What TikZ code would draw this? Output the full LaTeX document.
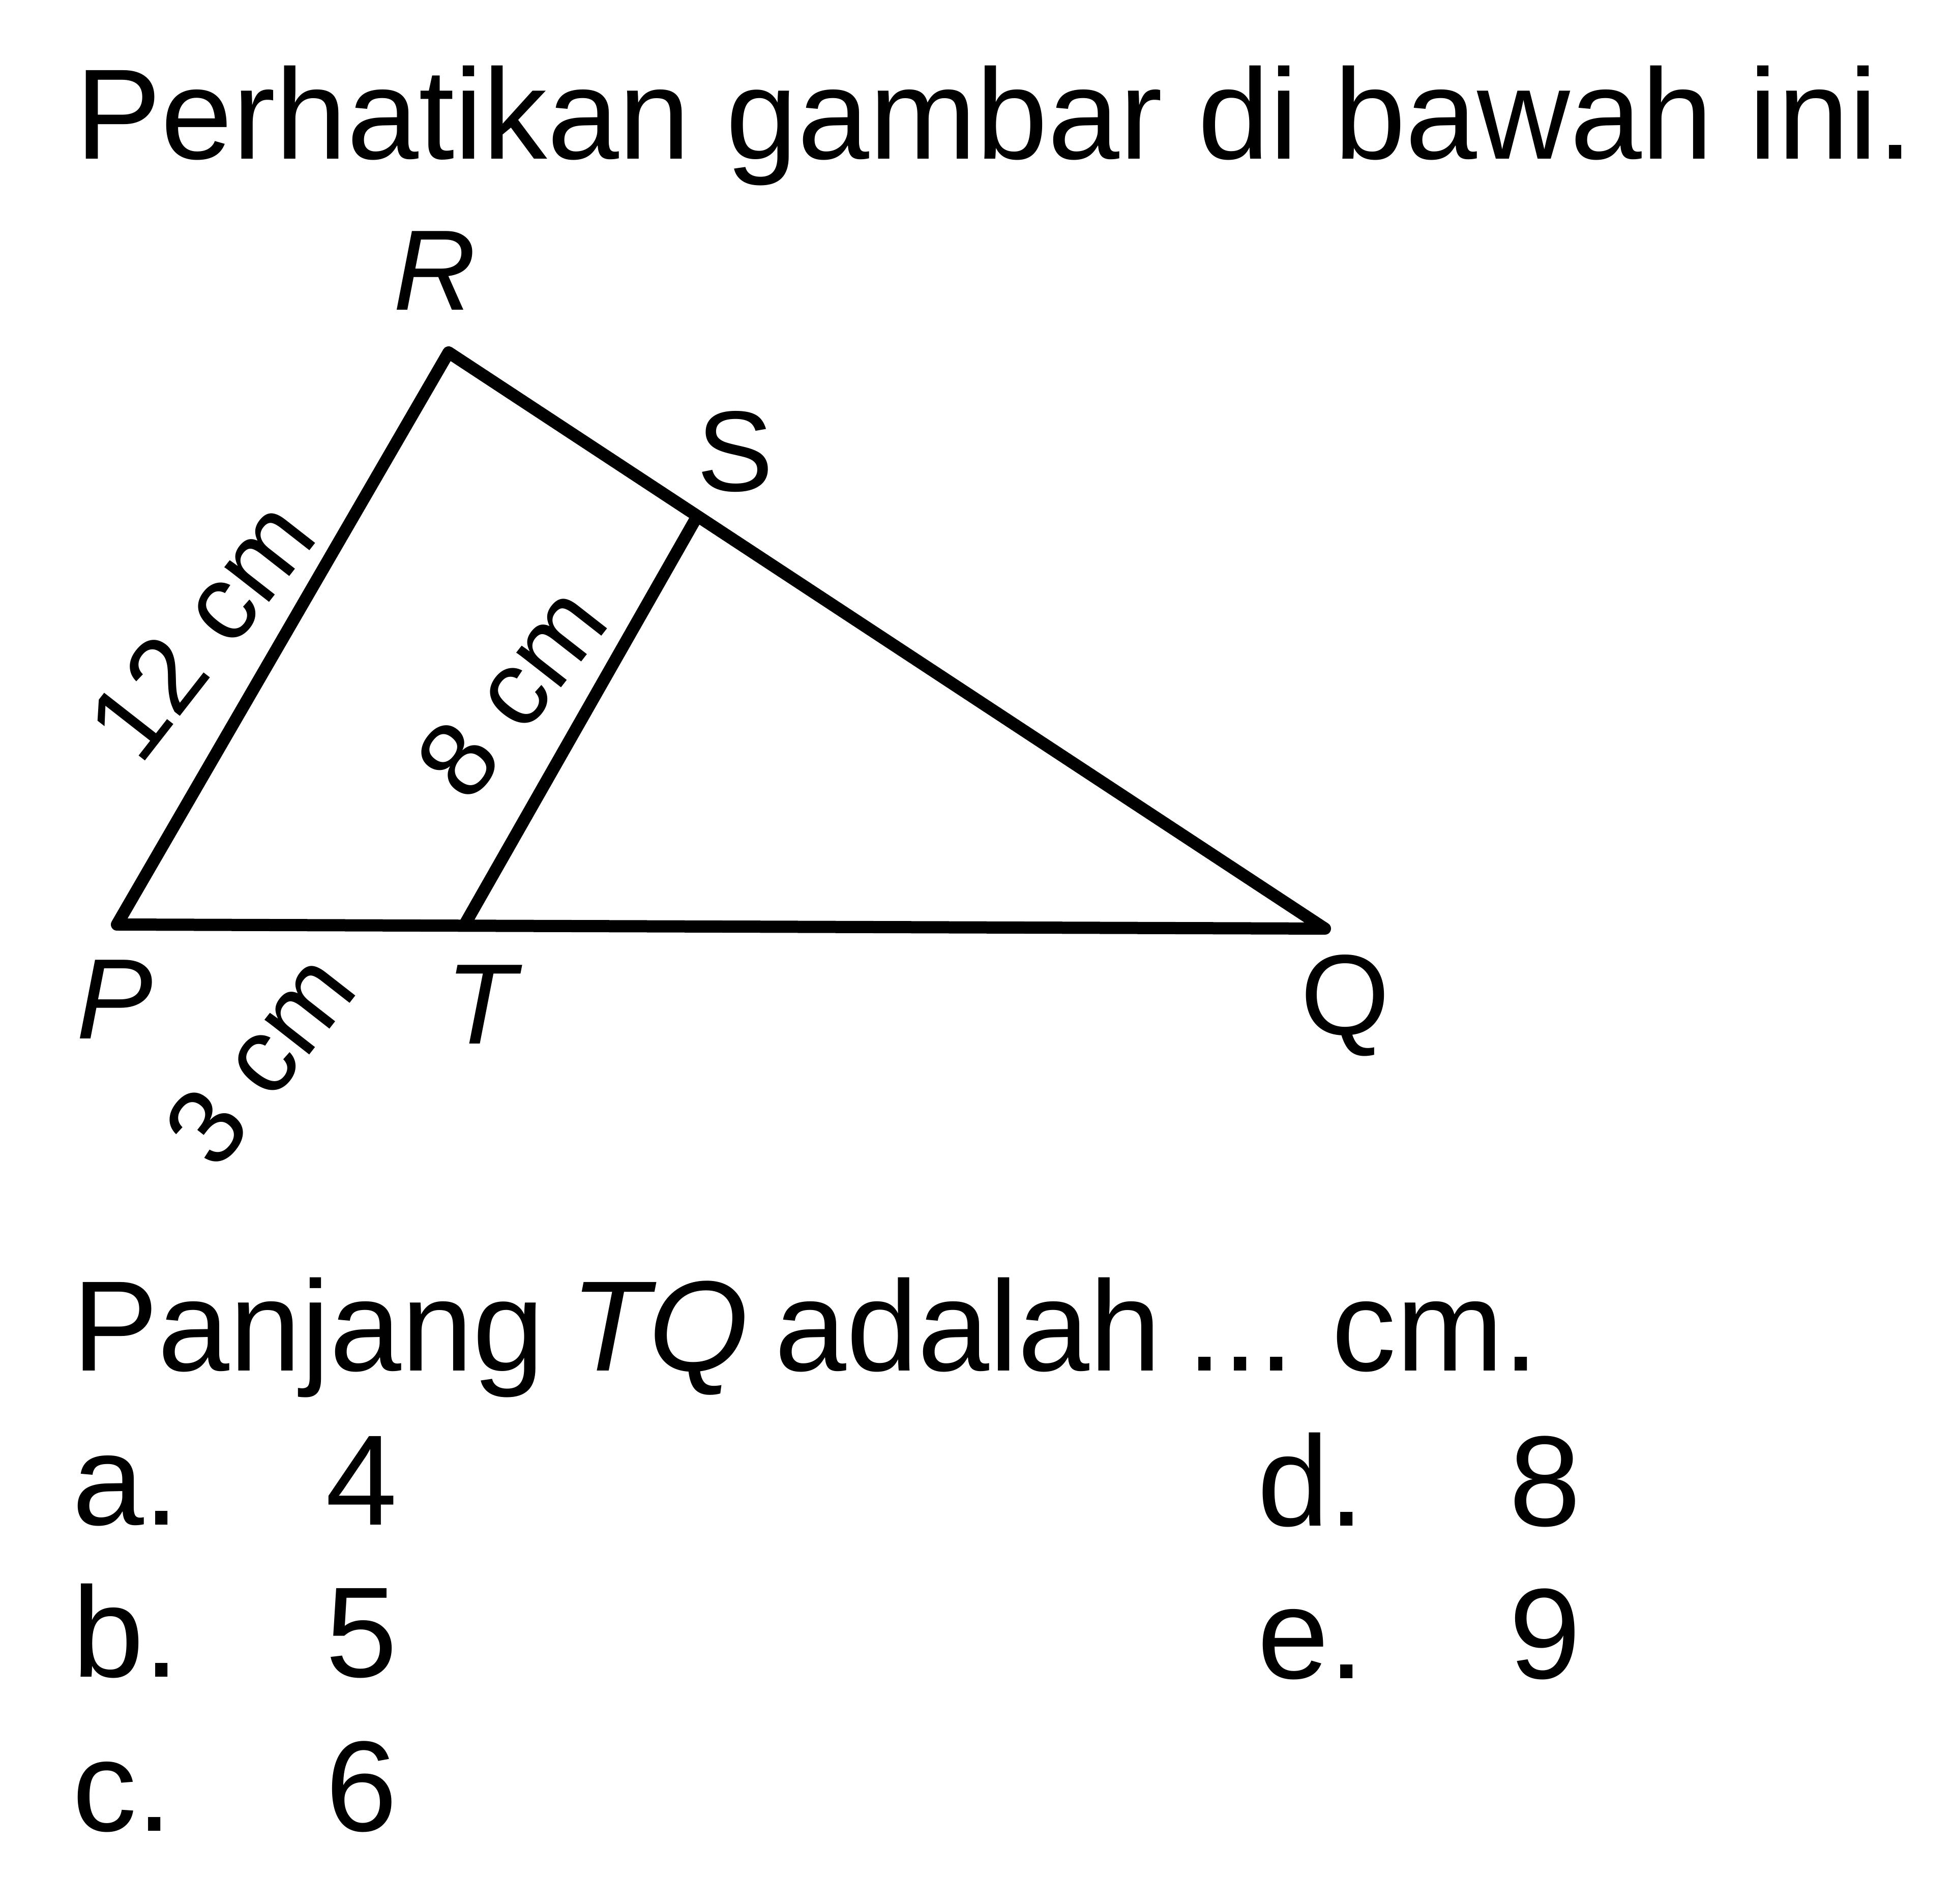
\documentclass[tikz,border=0pt]{standalone}
\usepackage{fontspec}
\setmainfont{Liberation Sans}
\begin{document}
\begin{tikzpicture}[line width=0.24cm, line join=round,
        text line/.style={anchor=base west, inner sep=0, font=\fontsize{72}{86}\selectfont},
        vertex label/.style={inner sep=0, font=\fontsize{64}{76}\selectfont},
        side label/.style={inner sep=0, rotate=52, font=\fontsize{60}{72}\selectfont}]
        \useasboundingbox (0,0) rectangle (38.4,37.43);

        \node[text line] at (1.36, 34.30) (title) {Perhatikan gambar di bawah ini.};

        % triangle
        \coordinate (p) at (2.30, 19.25);
        \coordinate (r) at (8.82, 30.50);
        \coordinate (s) at (13.72, 27.30);
        \coordinate (t) at (9.12, 19.22);
        \coordinate (q) at (26.05, 19.17);
        \draw (p) -- (r) -- (q) -- cycle;
        \draw (t) -- (s);

        \node[vertex label] at (8.55, 32.11) (lr) {\itshape R};
        \node[vertex label] at (14.45, 28.55) (ls) {S};
        \node[vertex label] at (2.26, 17.78) (lp) {\itshape P};
        \node[vertex label] at (9.45, 17.68) (lt) {\itshape T};
        \node[vertex label] at (26.45, 17.66) (lq) {Q};

        \node[side label] at (3.95, 25.05) (pr) {12 cm};
        \node[side label] at (10.05, 23.83) (ts) {8 cm};
        \node[side label] at (5.10, 16.61) (pt) {3 cm};

        % question and options
        \node[text line] at (1.30, 10.48) (quest) {\spaceskip=0.2em Panjang \textit{TQ} adalah ... cm.};
        \node[text line] at (1.30, 7.45) (opta) {a.};
        \node[text line] at (6.28, 7.45) (vala) {4};
        \node[text line] at (1.30, 4.46) (optb) {b.};
        \node[text line] at (6.28, 4.46) (valb) {5};
        \node[text line] at (1.30, 1.43) (optc) {c.};
        \node[text line] at (6.28, 1.43) (valc) {6};
        \node[text line] at (24.60, 7.43) (optd) {d.};
        \node[text line] at (29.55, 7.43) (vald) {8};
        \node[text line] at (24.60, 4.43) (opte) {e.};
        \node[text line] at (29.55, 4.43) (vale) {9};
\end{tikzpicture}
\end{document}
